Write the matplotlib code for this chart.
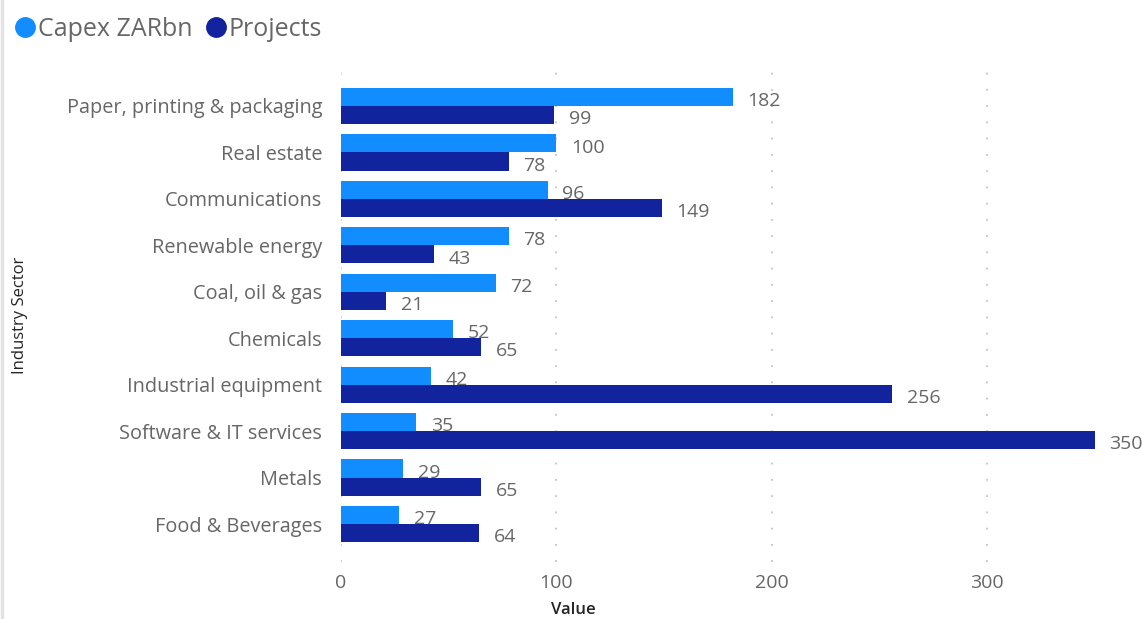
import numpy as np
import matplotlib.pyplot as plt
from matplotlib.lines import Line2D

plt.rcParams['font.family'] = ['Open Sans', 'DejaVu Sans']

sectors = ["Paper, printing & packaging", "Real estate", "Communications",
           "Renewable energy", "Coal, oil & gas", "Chemicals",
           "Industrial equipment", "Software & IT services", "Metals",
           "Food & Beverages"]
capex = [182, 100, 96, 78, 72, 52, 42, 35, 29, 27]
projects = [99, 78, 149, 43, 21, 65, 256, 350, 65, 64]
series_names = ["Capex ZARbn", "Projects"]
series_colors = ["#118DFF", "#12239E"]
xticks = [0, 100, 200, 300]

W, H = 1142, 619
fig = plt.figure(figsize=(W / 100, H / 100), dpi=100)
ax = fig.add_axes([341 / W, (H - 562) / H, (W - 341) / W, 490 / H])

y = np.arange(len(sectors))
bh = 0.39
txt_gray = "#666666"

for vals, off, col in [(capex, -bh / 2, series_colors[0]), (projects, bh / 2, series_colors[1])]:
    bars = ax.barh(y + off, vals, height=bh, color=col, zorder=2)
    for b, v in zip(bars, vals):
        ax.annotate(str(v), (b.get_width(), b.get_y() + b.get_height() / 2),
                    xytext=(10.5, -3), textcoords="offset points",
                    ha="left", va="center", fontsize=14, color=txt_gray, zorder=3)

ax.set_xlim(0, 372)
ax.set_ylim(9.818, -0.732)
ax.set_yticks(y)
ax.set_yticklabels(sectors, fontsize=14.3, color=txt_gray)
ax.set_xticks(xticks)
ax.set_xticklabels([str(t) for t in xticks], fontsize=14, color=txt_gray)
ax.tick_params(axis="both", length=0)
ax.tick_params(axis="y", pad=13.5)
ax.tick_params(axis="x", pad=9)
for s in ax.spines.values():
    s.set_visible(False)
ax.grid(axis="x", color="#c4c4c4", linestyle=(0, (1, 8)), linewidth=1.3, zorder=1)
ax.set_axisbelow(True)

fig.text(573 / W, 1 - 610 / H, "Value", ha="center", va="center",
         fontsize=12, fontweight="semibold", color="#252423")
fig.text(20 / W, 1 - 315 / H, "Industry Sector", ha="center", va="center",
         rotation=90, fontsize=12, color="#252423")

handles = [Line2D([], [], marker="o", linestyle="none", markersize=14,
                  markerfacecolor=c, markeredgecolor=c) for c in series_colors]
fig.legend(handles, series_names, loc="center left", bbox_to_anchor=(3 / W, 1 - 29 / H),
           ncol=2, frameon=False, fontsize=18, labelcolor=txt_gray,
           handlelength=0.75, handletextpad=0.15, columnspacing=0.55, borderpad=0)

fig.add_artist(Line2D([1.5 / W, 1.5 / W], [0, 1], color="#e4e4e4", linewidth=2.5))

fig.savefig("out.png", dpi=100)
